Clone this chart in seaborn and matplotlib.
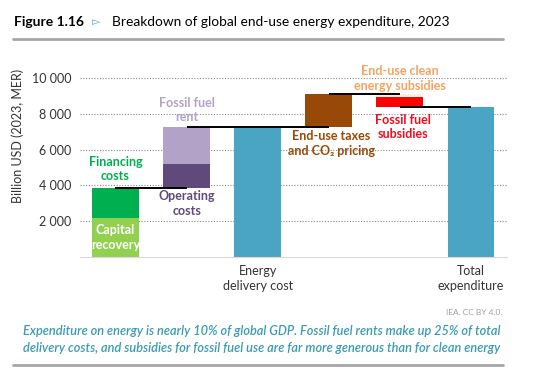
import numpy as np
import pandas as pd
import matplotlib
matplotlib.use('Agg')
import matplotlib.pyplot as plt
import seaborn as sns

# 数据（单位：十亿美元，2023 MER）
step_labels = ['Capital\nrecovery', 'Financing\ncosts', 'Operating\ncosts', 'Fossil fuel\nrent',
               'End-use taxes\nand CO\u2082 pricing', 'End-use clean\nenergy subsidies',
               'Fossil fuel\nsubsidies']
step_values = [2150, 1680, 1360, 2090, 1820, -170, -560]
step_columns = [0, 0, 1, 1, 3, 4, 4]
step_colors = ['#92d050', '#00b050', '#604a7b', '#b3a2c7', '#984807', '#fdf1e8', '#ff0000']
label_colors = ['white', '#00b050', '#604a7b', '#b3a2c7', '#984807', '#f4a460', '#e8101e']

total_labels = ['Energy\ndelivery cost', 'Total\nexpenditure']
total_columns = [2, 5]
column_order = ['c0', 'c1', 'Energy\ndelivery cost', 'c3', 'c4', 'Total\nexpenditure']
yticks = [2000, 4000, 6000, 8000, 10000]

sns.set_theme(style='white')
plt.rcParams['font.family'] = ['Lato', 'DejaVu Sans']

fig = plt.figure(figsize=(5.4, 3.82), dpi=100)
ax = fig.add_axes([0.148, 0.328, 0.79, 0.4856])

# 累计值
tops = np.cumsum(step_values)
bottoms = tops - np.array(step_values)
delivery = tops[3]
total = tops[-1]

df_tot = pd.DataFrame({'col': total_labels, 'value': [delivery, total]})
sns.barplot(data=df_tot, x='col', y='value', order=column_order, color='#4aa5c4',
            saturation=1, width=0.66, ax=ax, zorder=2, linewidth=0, edgecolor='none')

for v, b, c, col in zip(step_values, bottoms, step_colors, step_columns):
    ax.bar(col, v, bottom=b, width=0.66, color=c, zorder=2, linewidth=0, edgecolor='none')

# 连接线
links = [(0, 1, tops[1]), (1, 3, tops[3]), (3, 4, tops[4]), (4, 5, tops[6])]
for x0, x1, y in links:
    ax.plot([x0, x1], [y, y], color='black', lw=1.4, zorder=3, solid_capstyle='butt')

# 标注
label_pos = [(0, 1075), (0, 4910), (1, 2970), (1, 8220), (3.04, 6350), (4.0, 9980), (4.04, 7280)]
for (x, y), txt, c in zip(label_pos, step_labels, label_colors):
    ax.text(x, y, txt, ha='center', va='center', fontsize=9, fontweight='bold',
            color=c, linespacing=1.25, zorder=4, clip_on=False)

ax.set_xlim(-0.5, 5.5)
ax.set_ylim(0, 10400)
ax.set_yticks(yticks)
ax.set_yticklabels([f'{t:,}'.replace(',', ' ') for t in yticks], fontsize=9, color='#333333')
ax.set_xticks(range(6))
ax.set_xticklabels(['', '', total_labels[0], '', '', total_labels[1]], fontsize=9,
                   color='#333333', linespacing=1.3)
ax.tick_params(axis='both', length=0, pad=6)
ax.set_xlabel('')
ax.set_ylabel('Billion USD (2023, MER)', fontsize=9, color='#333333')
ax.yaxis.set_label_coords(-0.13, 0.65)
ax.yaxis.grid(True, linestyle=(0, (1, 1.5)), color='#8c8c8c', lw=0.8, zorder=0)
ax.set_axisbelow(True)
for s in ['top', 'right', 'left']:
    ax.spines[s].set_visible(False)
ax.spines['bottom'].set_color('#d9d9d9')
ax.spines['bottom'].set_linewidth(0.8)

# 标题与说明
fig.text(0.026, 0.942, 'Figure 1.16', fontsize=10, fontweight='bold', color='black', va='center')
fig.text(0.170, 0.942, '\u25bb', fontsize=8, color='#4aa5c4', va='center', family=['DejaVu Sans'])
fig.text(0.207, 0.942, 'Breakdown of global end-use energy expenditure, 2023', fontsize=9.9,
         color='black', va='center')
fig.add_artist(plt.Line2D([0.024, 0.932], [0.899, 0.899], color='#a6a6a6', lw=2))

fig.text(0.93, 0.182, 'IEA. CC BY 4.0.', fontsize=6, color='#a0a0a0', ha='right', va='center')
fig.text(0.485, 0.112,
         'Expenditure on energy is nearly 10% of global GDP. Fossil fuel rents make up 25% of total\n'
         'delivery costs, and subsidies for fossil fuel use are far more generous than for clean energy',
         fontsize=9.2, style='italic', fontweight='semibold', color='#3a9bb0', ha='center',
         va='center', linespacing=1.5)
fig.add_artist(plt.Line2D([0.024, 0.932], [0.044, 0.044], color='#a6a6a6', lw=2))

fig.savefig('out.png', dpi=100)
plt.close(fig)
